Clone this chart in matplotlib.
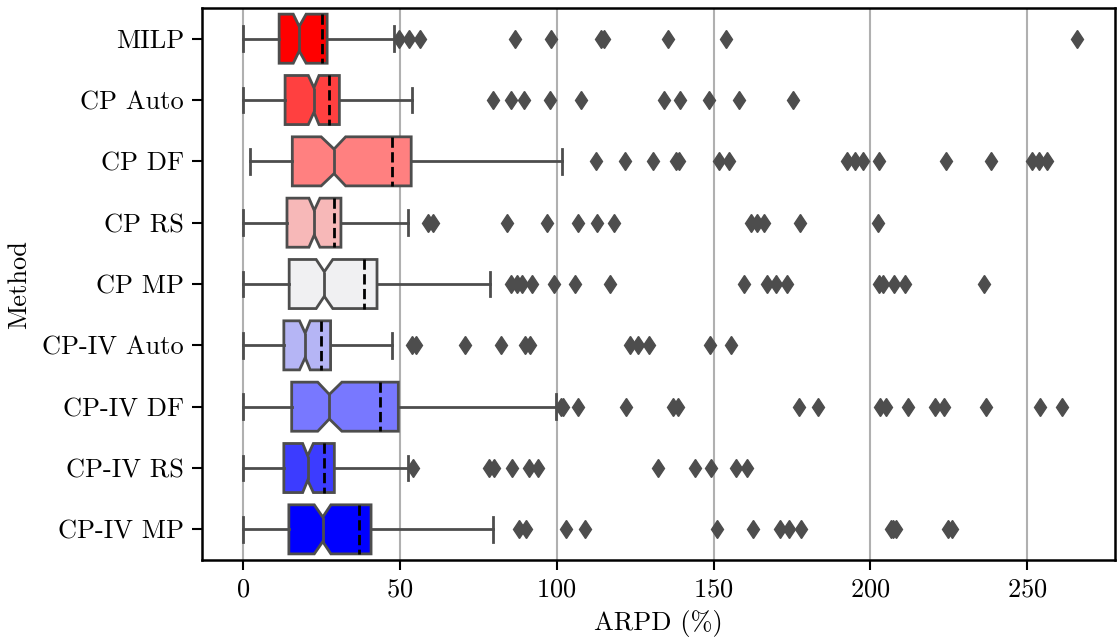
import numpy as np
import matplotlib.pyplot as plt

plt.rcParams['font.family'] = ['cmr10', 'DejaVu Serif']
plt.rcParams['mathtext.fontset'] = 'cm'
plt.rcParams['axes.formatter.use_mathtext'] = True
plt.rcParams['font.size'] = 19

methods = ['MILP', 'CP Auto', 'CP DF', 'CP RS', 'CP MP',
           'CP-IV Auto', 'CP-IV DF', 'CP-IV RS', 'CP-IV MP']

# box statistics (ARPD %)
whislo = [0.0, 0.0, 2.2, 0.0, 0.0, 0.0, 0.0, 0.0, 0.0]
q1 = [11.5, 13.4, 15.7, 14.0, 14.7, 13.0, 15.5, 13.0, 14.6]
med = [17.9, 22.6, 29.0, 22.7, 25.9, 19.8, 27.5, 20.6, 25.4]
q3 = [26.8, 30.7, 53.6, 31.2, 42.7, 27.9, 49.5, 29.1, 40.8]
whishi = [48.2, 53.9, 101.6, 52.7, 78.6, 47.5, 99.7, 52.7, 79.7]
means = [25.1, 27.3, 47.6, 29.0, 38.4, 24.8, 43.7, 25.9, 36.9]
ci_lo = [16.0, 20.8, 24.9, 21.0, 23.3, 18.0, 23.8, 19.0, 22.7]
ci_hi = [20.1, 24.2, 32.7, 24.5, 28.6, 21.4, 31.5, 22.4, 28.0]

outliers = [
    [49.8, 53.0, 56.4, 86.7, 98.2, 114.1, 115.2, 135.6, 154.1, 265.8],
    [79.6, 85.3, 89.6, 97.9, 107.7, 134.3, 139.2, 148.5, 158.1, 175.4],
    [112.5, 121.8, 130.8, 137.9, 139.0, 151.6, 154.8, 192.6, 195.1, 197.5,
     202.7, 224.1, 238.3, 251.6, 253.9, 256.2],
    [58.9, 60.5, 84.3, 96.8, 106.7, 112.7, 118.4, 161.9, 163.9, 166.1,
     177.7, 202.5],
    [85.4, 87.2, 88.8, 92.2, 99.2, 105.9, 117.0, 159.7, 166.9, 169.8,
     173.5, 202.8, 204.1, 207.6, 210.9, 236.3],
    [53.8, 55.0, 70.8, 82.2, 89.9, 91.5, 123.2, 125.8, 129.5, 148.9, 155.7],
    [101.3, 102.1, 106.9, 122.1, 137.2, 138.6, 177.2, 183.3, 202.9, 205.1,
     212.0, 220.5, 223.4, 237.0, 254.1, 261.0],
    [54.3, 78.5, 80.0, 85.8, 91.0, 94.1, 132.4, 144.2, 149.1, 157.0, 160.7],
    [87.9, 90.1, 102.9, 109.0, 151.2, 162.7, 171.3, 174.1, 177.9, 206.5,
     207.3, 208.0, 224.8, 225.9],
]

colors = ['#ff0000', '#ff4040', '#ff8080', '#f7b8b8', '#f0f0f2',
          '#b5b5f5', '#7878ff', '#3c3cff', '#0000ff']

stats = []
for i in range(len(methods)):
    stats.append(dict(label=methods[i], whislo=whislo[i], q1=q1[i], med=med[i],
                      q3=q3[i], whishi=whishi[i], mean=means[i],
                      cilo=ci_lo[i], cihi=ci_hi[i], fliers=outliers[i]))

edge = '#4d4d4d'
fig = plt.figure(figsize=(11.19, 6.42), dpi=100)
ax = fig.add_axes([0.1805, 0.1277, 0.816, 0.8598])
ax.grid(axis='x', color='#b0b0b0', lw=1.5, zorder=0)
ax.set_axisbelow(True)

bp = ax.bxp(stats, positions=np.arange(len(methods)), widths=0.8, vert=False,
            patch_artist=True, shownotches=True, showmeans=True, meanline=True,
            boxprops=dict(edgecolor=edge, linewidth=2),
            whiskerprops=dict(color=edge, linewidth=2),
            capprops=dict(color=edge, linewidth=2),
            medianprops=dict(color=edge, linewidth=2),
            meanprops=dict(color='black', linestyle='--', linewidth=2),
            flierprops=dict(marker='d', markersize=9.5, markerfacecolor=edge,
                            markeredgecolor=edge))
for patch, c in zip(bp['boxes'], colors):
    patch.set_facecolor(c)

ax.set_ylim(8.5, -0.5)
ax.set_xlim(-13.1, 278)
ax.set_xticks([0, 50, 100, 150, 200, 250])
ax.set_yticks(np.arange(len(methods)))
ax.set_yticklabels(methods)
ax.set_xlabel('ARPD (%)', labelpad=6)
ax.set_ylabel('Method', labelpad=8)
for s in ax.spines.values():
    s.set_linewidth(1.8)
ax.tick_params(length=7, width=1.5, pad=6)

fig.savefig('out.png', dpi=100)
